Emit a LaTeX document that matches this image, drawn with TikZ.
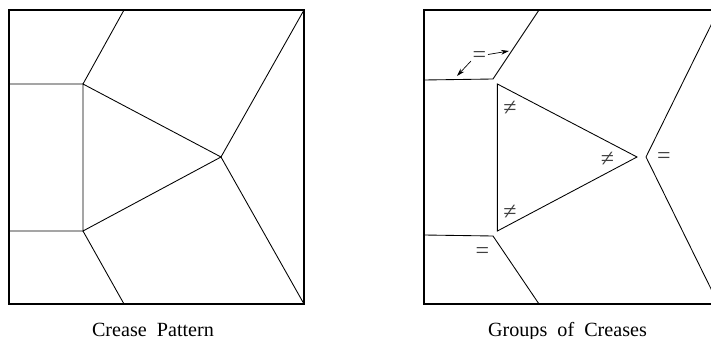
\documentclass[tikz,border=0pt]{standalone}
\usepackage{fontspec}
\setmainfont{Liberation Serif}
\usetikzlibrary{arrows.meta}
\tikzset{
  px/.style={x=0.75pt,y=-0.75pt},
  frame/.style={line width=1.1pt,line join=miter},
  crease/.style={line width=0.65pt,black,line join=miter},
  eqlabel/.style={inner sep=0pt,font=\fontsize{18}{20}\selectfont,text=black!75},
  nelabel/.style={inner sep=0pt,font=\fontsize{18}{20}\selectfont,text=black!75},
  caption/.style={inner sep=0pt,anchor=base,font=\fontsize{15.1}{17}\selectfont},
  arr/.style={line width=0.5pt,-{Stealth[length=6pt,width=3.6pt]}}
}
\begin{document}
\begin{tikzpicture}[px]
\useasboundingbox (0,0) rectangle (711,339);
\clip (0,0) rectangle (711,339);
% left
\coordinate (ltl) at (9,10); \coordinate (ltr) at (304,10);
\coordinate (lbl) at (9,304); \coordinate (lbr) at (304,304);
\coordinate (la) at (83,84); \coordinate (lb) at (83,231); \coordinate (lc) at (221,157);
\coordinate (lt) at (124,10); \coordinate (lbm) at (124,304);
\coordinate (ll1) at (9,84); \coordinate (ll2) at (9,231);
\draw[crease] (ll1) -- (la) -- (lt);
\draw[crease] (ll2) -- (lb) -- (lbm);
\draw[crease] (la) -- (lb) -- (lc) -- cycle;
\draw[crease] (lc) -- (ltr);
\draw[crease] (lc) -- (lbr);
\draw[frame] (ltl) rectangle (lbr);
\node[caption] (cap1) at (153,336.5) {Crease\ \ Pattern};
% right
\coordinate (rtl) at (424,10); \coordinate (rtr) at (718.5,10);
\coordinate (rbl) at (424,304); \coordinate (rbr) at (718.5,304);
\coordinate (ra) at (497.4,84); \coordinate (rb) at (497.4,231); \coordinate (rc) at (637,157);
\coordinate (r1) at (424,80); \coordinate (r2) at (493,79); \coordinate (r3) at (539,10);
\coordinate (r4) at (424,235); \coordinate (r5) at (493,236); \coordinate (r6) at (539,304);
\coordinate (r7) at (646,157);
\draw[crease] (r1) -- (r2) -- (r3);
\draw[crease] (r4) -- (r5) -- (r6);
\draw[crease] (ra) -- (rb) -- (rc) -- cycle;
\draw[crease] (rtr) -- (r7) -- (rbr);
\draw[frame] (rtl) rectangle (rbr);
\node[eqlabel] (eq1) at (479.5,57.5) {=};
\node[eqlabel] (eq2) at (482.5,253) {=};
\node[eqlabel] (eq3) at (664,158) {=};
\node[nelabel] (ne1) at (510,108) {≠};
\node[nelabel] (ne2) at (510,212) {≠};
\node[nelabel] (ne3) at (607.5,159) {≠};
\coordinate (a1) at (509,51); \coordinate (a2) at (457,76);
\draw[arr] (488,54.5) -- (a1);
\draw[arr] (471,61) -- (a2);
\node[caption] (cap2) at (567.5,336.5) {Groups\ \ of\ \ Creases};
\end{tikzpicture}
\end{document}
